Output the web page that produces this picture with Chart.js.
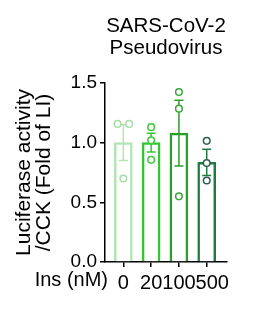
<!DOCTYPE html>
<html>
<head>
<meta charset="utf-8">
<script src="https://cdn.jsdelivr.net/npm/chart.js@4"></script>
<style>html,body{margin:0;background:#fff}</style>
</head>
<body>
<canvas id="myChart" width="255" height="309"></canvas>
<script>
// SARS-CoV-2 pseudovirus: luciferase / CCK as fold of LI, by insulin dose

const doses = ['0', '20', '100', '500']
const means = [1.0, 1.0, 1.08, 0.835]
const sems = [0.15, 0.078, 0.275, 0.11]
const replicates = [
  [1.157, 1.157, 0.70],
  [1.13, 1.02, 0.856],
  [1.425, 1.285, 0.55],
  [1.015, 0.83, 0.683]
]

const barColors = ['#b4e4b4', '#33c633', '#2a9e2a', '#1f7a40']
const dotColors = ['#a6dca6', '#3cc83c', '#38a638', '#2b5e50']
const font = 'Arial'

// error bars + replicate dots on top of the bars
const errorDots = {
  id: 'errorDots',
  afterDatasetsDraw(chart) {
    const {ctx, scales: {x, y}} = chart
    ctx.save()
    ctx.lineWidth = 1.5
    means.forEach((m, i) => {
      const cx = x.getPixelForValue(i)
      const top = y.getPixelForValue(m + sems[i])
      const bot = y.getPixelForValue(m - sems[i])
      ctx.strokeStyle = barColors[i]
      ctx.beginPath()
      ctx.moveTo(cx, top); ctx.lineTo(cx, bot)
      ctx.moveTo(cx - 4.5, top); ctx.lineTo(cx + 4.5, top)
      ctx.moveTo(cx - 4.5, bot); ctx.lineTo(cx + 4.5, bot)
      ctx.stroke()
    })

    const r = 3.3
    replicates.forEach((vals, i) => {
      const cx = x.getPixelForValue(i)
      const py = vals.map(v => y.getPixelForValue(v))
      const used = []
      py.forEach((p, k) => {
        if (used[k]) return
        // dots that would sit on each other get spread sideways
        const same = py.map((q, j) => j).filter(j => !used[j] && Math.abs(py[j] - p) < 2 * r)
        same.forEach((j, n) => {
          used[j] = true
          const dx = (n - (same.length - 1) / 2) * (2 * r + 5)
          ctx.beginPath()
          ctx.arc(cx + dx, py[j], r, 0, Math.PI * 2)
          ctx.fillStyle = '#fff'
          ctx.fill()
          ctx.strokeStyle = dotColors[i]
          ctx.stroke()
        })
      })
    })
    ctx.restore()
  }
}

// x tick labels (pushed apart when they touch) and the "Ins (nM)" label
const xLabels = {
  id: 'xLabels',
  afterDraw(chart) {
    const {ctx, chartArea, scales: {x}} = chart
    ctx.save()
    ctx.fillStyle = '#000'
    ctx.font = '20px ' + font
    ctx.textBaseline = 'alphabetic'
    ctx.textAlign = 'left'
    let prevRight = -Infinity
    doses.forEach((d, i) => {
      const w = ctx.measureText(d).width
      let left = x.getPixelForValue(i) - w / 2
      if (left < prevRight) left = prevRight
      ctx.fillText(d, left, chartArea.bottom + 27)
      prevRight = left + w
    })
    ctx.textAlign = 'right'
    ctx.fillText('Ins (nM)', chartArea.left + 3, chartArea.bottom + 23.5)
    ctx.restore()
  }
}

const ctx = document.querySelector('#myChart')

const data = {
  datasets: [{
    type: 'bar',
    data: means.map((m, i) => ({x: i, y: m})),
    backgroundColor: '#fff',
    borderColor: barColors,
    borderWidth: 2.5,
    barThickness: 18,
    borderSkipped: 'start'
  }]
}

const axisGrid = {drawOnChartArea: false, drawTicks: true, tickLength: 5, color: '#000', lineWidth: 1.5, offset: false}

const options = {
  responsive: false,
  animation: false,
  layout: {padding: {top: 0, left: 0, right: 28, bottom: 0}},
  plugins: {
    legend: {display: false},
    tooltip: {enabled: false},
    title: {
      display: true,
      fullSize: false,
      text: ['SARS-CoV-2', 'Pseudovirus'],
      color: '#000',
      font: {family: font, size: 20.5, weight: 'normal', lineHeight: 1.08},
      padding: {top: 15.4, bottom: 23.3}
    }
  },
  scales: {
    x: {
      type: 'linear',
      offset: false,
      min: -0.66,
      max: 3.73,
      afterBuildTicks: s => { s.ticks = doses.map((d, i) => ({value: i})) },
      afterFit: s => { s.height = 47 },
      ticks: {display: false},
      grid: axisGrid,
      border: {color: '#000', width: 1.5}
    },
    y: {
      min: 0,
      max: 1.5,
      afterFit: s => { s.width = 105 },
      ticks: {
        stepSize: 0.5,
        callback: v => v.toFixed(1),
        color: '#000',
        font: {family: font, size: 19},
        padding: 3
      },
      grid: axisGrid,
      border: {color: '#000', width: 1.5},
      title: {
        display: true,
        text: ['Luciferase activity', '/CCK (Fold of LI)'],
        color: '#000',
        font: {family: font, size: 21, lineHeight: 0.95},
        padding: {top: 14.5, bottom: 0}
      }
    }
  }
}

const chart = new Chart(ctx, {
  type: 'bar',
  data: data,
  options: options,
  plugins: [errorDots, xLabels]
})
</script>
</body>
</html>
